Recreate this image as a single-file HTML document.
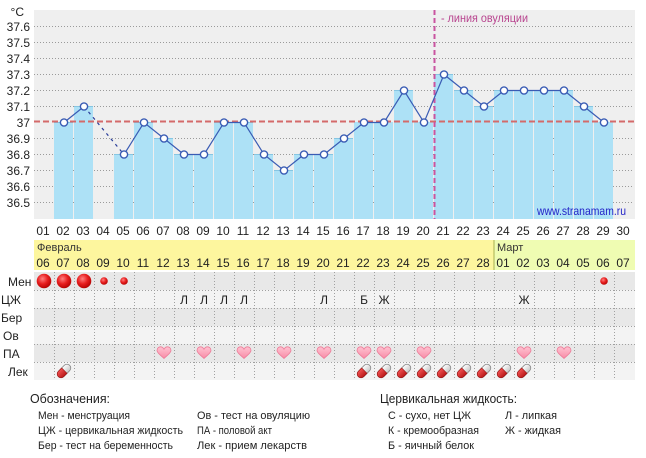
<!DOCTYPE html>
<html><head><meta charset="utf-8"><style>
html,body{margin:0;padding:0;background:#fff;}
svg{display:block;font-family:"Liberation Sans","DejaVu Sans",sans-serif;}
</style></head><body>
<svg width="646" height="458" viewBox="0 0 646 458" xmlns="http://www.w3.org/2000/svg">
<defs>
<radialGradient id="rg" cx="0.4" cy="0.35" r="0.7">
<stop offset="0" stop-color="#ff8080"/><stop offset="0.5" stop-color="#e82020"/><stop offset="1" stop-color="#b00000"/>
</radialGradient>
<linearGradient id="hg" x1="0" y1="0" x2="0" y2="1">
<stop offset="0" stop-color="#ffc4d2"/><stop offset="1" stop-color="#f88aa6"/>
</linearGradient>
<linearGradient id="pw" x1="0" y1="0" x2="0" y2="1">
<stop offset="0" stop-color="#ffffff"/><stop offset="1" stop-color="#c8c8c8"/>
</linearGradient>
<linearGradient id="pr" x1="0" y1="0" x2="0" y2="1">
<stop offset="0" stop-color="#f05050"/><stop offset="1" stop-color="#b81818"/>
</linearGradient>
<g id="heart"><path d="M0,5.5 C-3,2.5 -7,0 -7,-2.5 C-7,-5 -5,-6.2 -3.5,-6.2 C-2,-6.2 -0.8,-5.2 0,-3.8 C0.8,-5.2 2,-6.2 3.5,-6.2 C5,-6.2 7,-5 7,-2.5 C7,0 3,2.5 0,5.5 Z" fill="url(#hg)" stroke="#ec7c98" stroke-width="0.8"/></g>
<g id="pill"><g transform="rotate(-45)">
<rect x="-8" y="-3.8" width="16" height="7.6" rx="3.8" fill="url(#pw)" stroke="#8a8a8a" stroke-width="0.8"/>
<path d="M0.5,-3.8 L-4.2,-3.8 A3.8,3.8 0 0 0 -4.2,3.8 L0.5,3.8 Z" fill="url(#pr)" stroke="#9a1010" stroke-width="0.6"/>
</g></g>
</defs>

<!-- plot background -->
<rect x="34" y="10" width="601" height="209" fill="#efefef"/>

<!-- grid lines -->
<g stroke="#9a9a9a" stroke-width="1" stroke-dasharray="1,2">
<line x1="34" x2="634" y1="26.5" y2="26.5"/>
<line x1="34" x2="634" y1="42.5" y2="42.5"/>
<line x1="34" x2="634" y1="58.5" y2="58.5"/>
<line x1="34" x2="634" y1="74.5" y2="74.5"/>
<line x1="34" x2="634" y1="90.5" y2="90.5"/>
<line x1="34" x2="634" y1="106.5" y2="106.5"/>
<line x1="34" x2="634" y1="138.5" y2="138.5"/>
<line x1="34" x2="634" y1="154.5" y2="154.5"/>
<line x1="34" x2="634" y1="170.5" y2="170.5"/>
<line x1="34" x2="634" y1="186.5" y2="186.5"/>
<line x1="34" x2="634" y1="202.5" y2="202.5"/>
</g>

<!-- bars -->
<g fill="#ade1f6">
<rect x="54" y="122" width="19" height="97"/>
<rect x="74" y="106" width="19" height="113"/>
<rect x="114" y="154" width="19" height="65"/>
<rect x="134" y="122" width="19" height="97"/>
<rect x="154" y="138" width="19" height="81"/>
<rect x="174" y="154" width="19" height="65"/>
<rect x="194" y="154" width="19" height="65"/>
<rect x="214" y="122" width="19" height="97"/>
<rect x="234" y="122" width="19" height="97"/>
<rect x="254" y="154" width="19" height="65"/>
<rect x="274" y="170" width="19" height="49"/>
<rect x="294" y="154" width="19" height="65"/>
<rect x="314" y="154" width="19" height="65"/>
<rect x="334" y="138" width="19" height="81"/>
<rect x="354" y="122" width="19" height="97"/>
<rect x="374" y="122" width="19" height="97"/>
<rect x="394" y="90" width="19" height="129"/>
<rect x="414" y="122" width="19" height="97"/>
<rect x="434" y="74" width="19" height="145"/>
<rect x="454" y="90" width="19" height="129"/>
<rect x="474" y="106" width="19" height="113"/>
<rect x="494" y="90" width="19" height="129"/>
<rect x="514" y="90" width="19" height="129"/>
<rect x="534" y="90" width="19" height="129"/>
<rect x="554" y="90" width="19" height="129"/>
<rect x="574" y="106" width="19" height="113"/>
<rect x="594" y="122" width="19" height="97"/>
</g>
<g stroke="#86c6e2" stroke-width="1">
<line x1="54" x2="73" y1="122.5" y2="122.5"/>
<line x1="74" x2="93" y1="106.5" y2="106.5"/>
<line x1="114" x2="133" y1="154.5" y2="154.5"/>
<line x1="134" x2="153" y1="122.5" y2="122.5"/>
<line x1="154" x2="173" y1="138.5" y2="138.5"/>
<line x1="174" x2="193" y1="154.5" y2="154.5"/>
<line x1="194" x2="213" y1="154.5" y2="154.5"/>
<line x1="214" x2="233" y1="122.5" y2="122.5"/>
<line x1="234" x2="253" y1="122.5" y2="122.5"/>
<line x1="254" x2="273" y1="154.5" y2="154.5"/>
<line x1="274" x2="293" y1="170.5" y2="170.5"/>
<line x1="294" x2="313" y1="154.5" y2="154.5"/>
<line x1="314" x2="333" y1="154.5" y2="154.5"/>
<line x1="334" x2="353" y1="138.5" y2="138.5"/>
<line x1="394" x2="413" y1="90.5" y2="90.5"/>
<line x1="434" x2="453" y1="74.5" y2="74.5"/>
<line x1="454" x2="473" y1="90.5" y2="90.5"/>
<line x1="474" x2="493" y1="106.5" y2="106.5"/>
<line x1="494" x2="573" y1="90.5" y2="90.5"/>
<line x1="574" x2="593" y1="106.5" y2="106.5"/>
</g>

<!-- red 37.0 line -->
<line x1="34" x2="635" y1="121.5" y2="121.5" stroke="#d46a6a" stroke-width="2" stroke-dasharray="6,3"/>

<!-- ovulation line -->
<line x1="434.5" x2="434.5" y1="10" y2="219" stroke="#c954a0" stroke-width="2" stroke-dasharray="5,3"/>
<text x="441" y="22" font-size="12" fill="#b8458f" textLength="87" lengthAdjust="spacingAndGlyphs">- линия овуляции</text>

<!-- temperature line -->
<polyline fill="none" stroke="#3a5cb4" stroke-width="1.2" points="64,122.5 84,106.5"/>
<line x1="84" y1="106.5" x2="124" y2="154.5" stroke="#2b3f9a" stroke-width="1.2" stroke-dasharray="3,4"/>
<polyline fill="none" stroke="#3a5cb4" stroke-width="1.2" points="124,154.5 144,122.5 164,138.5 184,154.5 204,154.5 224,122.5 244,122.5 264,154.5 284,170.5 304,154.5 324,154.5 344,138.5 364,122.5 384,122.5 404,90.5 424,122.5 444,74.5 464,90.5 484,106.5 504,90.5 524,90.5 544,90.5 564,90.5 584,106.5 604,122.5"/>
<g fill="#fff" stroke="#3a5cb4" stroke-width="1.4">
<circle cx="64" cy="122.5" r="3.6"/><circle cx="84" cy="106.5" r="3.6"/><circle cx="124" cy="154.5" r="3.6"/>
<circle cx="144" cy="122.5" r="3.6"/><circle cx="164" cy="138.5" r="3.6"/><circle cx="184" cy="154.5" r="3.6"/>
<circle cx="204" cy="154.5" r="3.6"/><circle cx="224" cy="122.5" r="3.6"/><circle cx="244" cy="122.5" r="3.6"/>
<circle cx="264" cy="154.5" r="3.6"/><circle cx="284" cy="170.5" r="3.6"/><circle cx="304" cy="154.5" r="3.6"/>
<circle cx="324" cy="154.5" r="3.6"/><circle cx="344" cy="138.5" r="3.6"/><circle cx="364" cy="122.5" r="3.6"/>
<circle cx="384" cy="122.5" r="3.6"/><circle cx="404" cy="90.5" r="3.6"/><circle cx="424" cy="122.5" r="3.6"/>
<circle cx="444" cy="74.5" r="3.6"/><circle cx="464" cy="90.5" r="3.6"/><circle cx="484" cy="106.5" r="3.6"/>
<circle cx="504" cy="90.5" r="3.6"/><circle cx="524" cy="90.5" r="3.6"/><circle cx="544" cy="90.5" r="3.6"/>
<circle cx="564" cy="90.5" r="3.6"/><circle cx="584" cy="106.5" r="3.6"/><circle cx="604" cy="122.5" r="3.6"/>
</g>

<text x="537" y="215" font-size="12" fill="#2424c8" textLength="89" lengthAdjust="spacingAndGlyphs">www.stranamam.ru</text>

<!-- y axis labels -->
<g font-size="12" fill="#222" text-anchor="end">
<text x="24" y="16" >°C</text>
<text x="30" y="31">37.6</text>
<text x="30" y="47">37.5</text>
<text x="30" y="63">37.4</text>
<text x="30" y="79">37.3</text>
<text x="30" y="95">37.2</text>
<text x="30" y="111">37.1</text>
<text x="30" y="127">37</text>
<text x="30" y="143">36.9</text>
<text x="30" y="159">36.8</text>
<text x="30" y="175">36.7</text>
<text x="30" y="191">36.6</text>
<text x="30" y="207">36.5</text>
</g>

<!-- x labels -->
<g font-size="12" fill="#222" text-anchor="middle">
<text x="43" y="235">01</text><text x="63" y="235">02</text><text x="83" y="235">03</text><text x="103" y="235">04</text><text x="123" y="235">05</text>
<text x="143" y="235">06</text><text x="163" y="235">07</text><text x="183" y="235">08</text><text x="203" y="235">09</text><text x="223" y="235">10</text>
<text x="243" y="235">11</text><text x="263" y="235">12</text><text x="283" y="235">13</text><text x="303" y="235">14</text><text x="323" y="235">15</text>
<text x="343" y="235">16</text><text x="363" y="235">17</text><text x="383" y="235">18</text><text x="403" y="235">19</text><text x="423" y="235">20</text>
<text x="443" y="235">21</text><text x="463" y="235">22</text><text x="483" y="235">23</text><text x="503" y="235">24</text><text x="523" y="235">25</text>
<text x="543" y="235">26</text><text x="563" y="235">27</text><text x="583" y="235">28</text><text x="603" y="235">29</text><text x="623" y="235">30</text>
</g>

<!-- calendar band -->
<rect x="34" y="240" width="460" height="30" fill="#fdf69e"/>
<rect x="494" y="240" width="141" height="30" fill="#effcb2"/>
<line x1="494" x2="494" y1="240" y2="270" stroke="#a8b050" stroke-width="1"/>
<text x="37" y="251" font-size="11" fill="#333">Февраль</text>
<text x="497" y="251" font-size="11" fill="#333">Март</text>
<g font-size="12" fill="#222" text-anchor="middle">
<text x="43" y="267">06</text><text x="63" y="267">07</text><text x="83" y="267">08</text><text x="103" y="267">09</text><text x="123" y="267">10</text>
<text x="143" y="267">11</text><text x="163" y="267">12</text><text x="183" y="267">13</text><text x="203" y="267">14</text><text x="223" y="267">15</text>
<text x="243" y="267">16</text><text x="263" y="267">17</text><text x="283" y="267">18</text><text x="303" y="267">19</text><text x="323" y="267">20</text>
<text x="343" y="267">21</text><text x="363" y="267">22</text><text x="383" y="267">23</text><text x="403" y="267">24</text><text x="423" y="267">25</text>
<text x="443" y="267">26</text><text x="463" y="267">27</text><text x="483" y="267">28</text><text x="503" y="267">01</text><text x="523" y="267">02</text>
<text x="543" y="267">03</text><text x="563" y="267">04</text><text x="583" y="267">05</text><text x="603" y="267">06</text><text x="623" y="267">07</text>
</g>

<!-- event rows -->
<rect x="34" y="272" width="601" height="18" fill="#e8e8e8"/>
<rect x="34" y="290" width="601" height="18" fill="#f3f3f3"/>
<rect x="34" y="308" width="601" height="18" fill="#e8e8e8"/>
<rect x="34" y="326" width="601" height="18" fill="#f3f3f3"/>
<rect x="34" y="344" width="601" height="18" fill="#e8e8e8"/>
<rect x="34" y="362" width="601" height="18" fill="#f3f3f3"/>
<g stroke="#a0a0a0" stroke-width="1" stroke-dasharray="1,2">
<line x1="34" x2="635" y1="290.5" y2="290.5"/>
<line x1="34" x2="635" y1="308.5" y2="308.5"/>
<line x1="34" x2="635" y1="326.5" y2="326.5"/>
<line x1="34" x2="635" y1="344.5" y2="344.5"/>
<line x1="34" x2="635" y1="362.5" y2="362.5"/>
<line x1="54.5" x2="54.5" y1="272" y2="380"/><line x1="74.5" x2="74.5" y1="272" y2="380"/>
<line x1="94.5" x2="94.5" y1="272" y2="380"/><line x1="114.5" x2="114.5" y1="272" y2="380"/>
<line x1="134.5" x2="134.5" y1="272" y2="380"/><line x1="154.5" x2="154.5" y1="272" y2="380"/>
<line x1="174.5" x2="174.5" y1="272" y2="380"/><line x1="194.5" x2="194.5" y1="272" y2="380"/>
<line x1="214.5" x2="214.5" y1="272" y2="380"/><line x1="234.5" x2="234.5" y1="272" y2="380"/>
<line x1="254.5" x2="254.5" y1="272" y2="380"/><line x1="274.5" x2="274.5" y1="272" y2="380"/>
<line x1="294.5" x2="294.5" y1="272" y2="380"/><line x1="314.5" x2="314.5" y1="272" y2="380"/>
<line x1="334.5" x2="334.5" y1="272" y2="380"/><line x1="354.5" x2="354.5" y1="272" y2="380"/>
<line x1="374.5" x2="374.5" y1="272" y2="380"/><line x1="394.5" x2="394.5" y1="272" y2="380"/>
<line x1="414.5" x2="414.5" y1="272" y2="380"/><line x1="434.5" x2="434.5" y1="272" y2="380"/>
<line x1="454.5" x2="454.5" y1="272" y2="380"/><line x1="474.5" x2="474.5" y1="272" y2="380"/>
<line x1="494.5" x2="494.5" y1="272" y2="380"/><line x1="514.5" x2="514.5" y1="272" y2="380"/>
<line x1="534.5" x2="534.5" y1="272" y2="380"/><line x1="554.5" x2="554.5" y1="272" y2="380"/>
<line x1="574.5" x2="574.5" y1="272" y2="380"/><line x1="594.5" x2="594.5" y1="272" y2="380"/>
<line x1="614.5" x2="614.5" y1="272" y2="380"/>
</g>

<!-- row labels -->
<g font-size="12" fill="#222">
<text x="8" y="286">Мен</text>
<text x="1" y="304">ЦЖ</text>
<text x="1" y="322">Бер</text>
<text x="3" y="340">Ов</text>
<text x="3" y="358">ПА</text>
<text x="8" y="376">Лек</text>
</g>

<!-- menstruation -->
<circle cx="44" cy="281" r="7.3" fill="url(#rg)"/>
<circle cx="64" cy="281" r="7.3" fill="url(#rg)"/>
<circle cx="84" cy="281" r="7.3" fill="url(#rg)"/>
<circle cx="104" cy="281" r="3.8" fill="url(#rg)"/>
<circle cx="124" cy="281" r="3.8" fill="url(#rg)"/>
<circle cx="604" cy="281" r="3.8" fill="url(#rg)"/>

<!-- cervical fluid -->
<g font-size="12" fill="#222" text-anchor="middle">
<text x="184" y="304">Л</text><text x="204" y="304">Л</text><text x="224" y="304">Л</text><text x="244" y="304">Л</text>
<text x="324" y="304">Л</text><text x="364" y="304">Б</text><text x="384" y="304">Ж</text><text x="524" y="304">Ж</text>
</g>

<!-- hearts -->
<use href="#heart" x="164" y="353"/><use href="#heart" x="204" y="353"/><use href="#heart" x="244" y="353"/>
<use href="#heart" x="284" y="353"/><use href="#heart" x="324" y="353"/><use href="#heart" x="364" y="353"/>
<use href="#heart" x="384" y="353"/><use href="#heart" x="424" y="353"/><use href="#heart" x="524" y="353"/>
<use href="#heart" x="564" y="353"/>

<!-- pills -->
<use href="#pill" x="64" y="371"/>
<use href="#pill" x="364" y="371"/><use href="#pill" x="384" y="371"/><use href="#pill" x="404" y="371"/>
<use href="#pill" x="424" y="371"/><use href="#pill" x="444" y="371"/><use href="#pill" x="464" y="371"/>
<use href="#pill" x="484" y="371"/><use href="#pill" x="504" y="371"/><use href="#pill" x="524" y="371"/>

<!-- legend -->
<g fill="#222" lengthAdjust="spacingAndGlyphs">
<text x="30" y="403" font-size="13" textLength="80" lengthAdjust="spacingAndGlyphs">Обозначения:</text>
<text x="38" y="419" font-size="11" textLength="92" lengthAdjust="spacingAndGlyphs">Мен - менструация</text>
<text x="38" y="434" font-size="11" textLength="145" lengthAdjust="spacingAndGlyphs">ЦЖ - цервикальная жидкость</text>
<text x="38" y="449" font-size="11" textLength="135" lengthAdjust="spacingAndGlyphs">Бер - тест на беременность</text>
<text x="197" y="419" font-size="11" textLength="113" lengthAdjust="spacingAndGlyphs">Ов - тест на овуляцию</text>
<text x="197" y="434" font-size="11" textLength="75" lengthAdjust="spacingAndGlyphs">ПА - половой акт</text>
<text x="197" y="449" font-size="11" textLength="110" lengthAdjust="spacingAndGlyphs">Лек - прием лекарств</text>
<text x="380" y="403" font-size="13" textLength="137" lengthAdjust="spacingAndGlyphs">Цервикальная жидкость:</text>
<text x="388" y="419" font-size="11" textLength="83" lengthAdjust="spacingAndGlyphs">С - сухо, нет ЦЖ</text>
<text x="388" y="434" font-size="11" textLength="91" lengthAdjust="spacingAndGlyphs">К - кремообразная</text>
<text x="388" y="449" font-size="11" textLength="86" lengthAdjust="spacingAndGlyphs">Б - яичный белок</text>
<text x="505" y="419" font-size="11" textLength="52" lengthAdjust="spacingAndGlyphs">Л - липкая</text>
<text x="505" y="434" font-size="11" textLength="56" lengthAdjust="spacingAndGlyphs">Ж - жидкая</text>
</g>
</svg>
</body></html>
